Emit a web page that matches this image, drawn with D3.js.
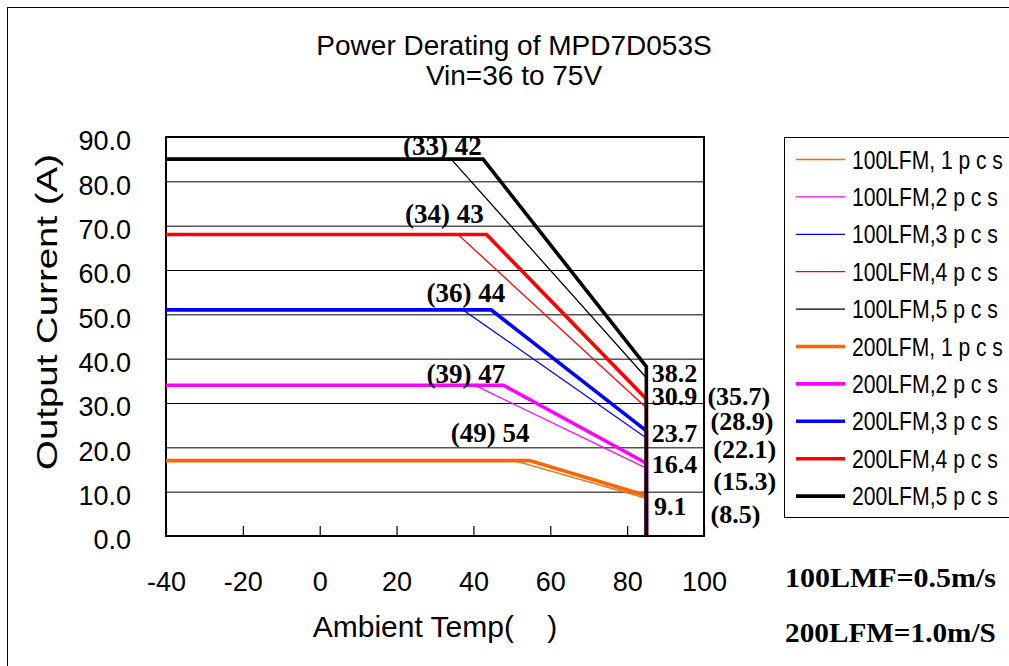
<!DOCTYPE html>
<html><head><meta charset="utf-8">
<script src="https://cdn.jsdelivr.net/npm/d3@7"></script>
<style>
body{margin:0;background:#fff;}
svg{display:block;}
text{font-family:"Liberation Sans",Arial,sans-serif;fill:#000;}
.lbl{font-family:"Liberation Serif","Times New Roman",serif;font-weight:bold;}
</style>
</head><body><svg id="c" width="1009" height="666"></svg>
<script>
// ---- data ----
const titleLines = ["Power Derating of MPD7D053S", "Vin=36 to 75V"];
const xTitle = "Ambient Temp(    )";
const yTitle = "Output Current (A)";
const tempTicks = [-40, -20, 0, 20, 40, 60, 80, 100];
const currentTicks = [0, 10, 20, 30, 40, 50, 60, 70, 80, 90];
const seriesNames = ["100LFM, 1 p c s", "100LFM,2 p c s", "100LFM,3 p c s", "100LFM,4 p c s", "100LFM,5 p c s",
                     "200LFM, 1 p c s", "200LFM,2 p c s", "200LFM,3 p c s", "200LFM,4 p c s", "200LFM,5 p c s"];
const startTemp = -40;
const cutoffTemp = 85;
const fullLoadCurrent = [17, 34, 51, 68, 85];
const knee100 = [50.6, 40.3, 37.3, 36.0, 34.2];
const knee200 = [54.6, 47.8, 44.6, 43.4, 42.5];
const end100 = [8.5, 15.3, 22.1, 28.9, 35.7];
const end200 = [9.1, 16.4, 23.7, 30.9, 38.2];
const kneeLabels = ["(49) 54", "(39) 47", "(36) 44", "(34) 43", "(33) 42"];
const kneeLabelTemp = [34.1, 27.8, 27.8, 22.2, 21.7];
const kneeLabelCurrent = [21.3, 34.4, 52.7, 70.5, 86.0];
const end200LabelTemp = [87.0, 86.4, 86.4, 86.4, 86.4];
const end200LabelCurrent = [4.7, 14.1, 21.3, 29.6, 34.8];
const end100LabelTemp = [101.7, 102.4, 102.4, 101.7, 100.9];
const end100LabelCurrent = [2.9, 10.4, 17.5, 23.9, 29.6];
const notes = ["100LMF=0.5m/s", "200LFM=1.0m/S"];

// ---- styles ----
const palette = ["#FF6600", "#FF00FF", "#0000FF", "#FF0000", "#000000"];
const thinW = 1.3, thickW = 3.6;

const svg = d3.select("#c");
const x = d3.scaleLinear().domain([-40, 100]).range([166, 704]);
const y = d3.scaleLinear().domain([0, 90]).range([536, 137]);
const pw = x.range()[1] - x.range()[0];

// helper: text scaled horizontally to a target width
function fitText(parent, tx, ty, rot, str, size, cls, target, anchor) {
  const g = parent.append("g");
  const t = g.append("text").attr("class", cls || null).style("font-size", size + "px")
    .attr("text-anchor", anchor || "start").text(str);
  const n = t.node().getComputedTextLength();
  const s = target / n;
  g.attr("transform", `translate(${tx},${ty}) rotate(${rot}) scale(${s},1)`);
  return t;
}

// outer chart border (right side runs off the picture)
svg.append("rect").attr("x", 7.5).attr("y", 7.5).attr("width", 1010).attr("height", 720)
  .attr("fill", "none").attr("stroke", "#000").attr("stroke-width", 1);

// title
svg.selectAll("text.title").data(titleLines).join("text").attr("class", "title")
  .attr("x", 514).attr("y", (d, i) => 55 + i * 30)
  .attr("text-anchor", "middle").style("font-size", "28px").text(d => d);

// gridlines
const grid = svg.append("g").attr("transform", `translate(${x.range()[0]},0)`)
  .call(d3.axisLeft(y).tickValues(currentTicks.slice(1, -1)).tickSize(-pw).tickFormat(""));
grid.select(".domain").remove();
grid.selectAll("line").attr("stroke", "#000").attr("stroke-width", 1);

// y tick labels
const ya = svg.append("g").attr("transform", `translate(${x.range()[0]},0)`)
  .call(d3.axisLeft(y).tickValues(currentTicks).tickSize(0).tickPadding(35).tickFormat(d3.format(".1f")));
ya.select(".domain").remove();
ya.selectAll("text").attr("dy", "0.47em").style("font-size", "27px")
  .style("font-family", "'Liberation Sans',Arial,sans-serif").attr("fill", "#000");

// x axis: inner ticks + labels
const xa = svg.append("g").attr("transform", `translate(0,${y(0)})`)
  .call(d3.axisBottom(x).tickValues(tempTicks).tickSizeInner(-10).tickSizeOuter(0).tickPadding(36)
    .tickFormat(d => String(d)));
xa.select(".domain").remove();
xa.selectAll("line").attr("stroke", "#000").attr("stroke-width", 1.2);
xa.selectAll("text").style("font-size", "27px")
  .style("font-family", "'Liberation Sans',Arial,sans-serif").attr("fill", "#000");

// plot frame
svg.append("rect").attr("x", x(-40)).attr("y", y(90)).attr("width", pw).attr("height", y(0) - y(90))
  .attr("fill", "none").attr("stroke", "#000").attr("stroke-width", 2);

// series
const line = d3.line().x(d => x(d[0])).y(d => y(d[1]));
const series = [];
[[knee100, end100, thinW], [knee200, end200, thickW]].forEach(([knee, end, w]) => {
  fullLoadCurrent.forEach((c, i) => {
    series.push({
      pts: [[startTemp, c], [knee[i], c], [cutoffTemp, end[i]], [cutoffTemp, 0]],
      color: palette[i], width: w
    });
  });
});
svg.append("g").selectAll("path").data(series).join("path")
  .attr("d", d => line(d.pts)).attr("fill", "none")
  .attr("stroke", d => d.color).attr("stroke-width", d => d.width)
  .attr("stroke-linejoin", "miter");

// knee labels
svg.append("g").selectAll("text").data(kneeLabels).join("text").attr("class", "lbl")
  .attr("x", (d, i) => x(kneeLabelTemp[i])).attr("y", (d, i) => y(kneeLabelCurrent[i]))
  .style("font-size", "27px").attr("xml:space", "preserve").style("white-space", "pre").text(d => d);

// end value labels
const f1 = d3.format(".1f");
svg.append("g").selectAll("text").data(end200).join("text").attr("class", "lbl")
  .attr("x", (d, i) => x(end200LabelTemp[i])).attr("y", (d, i) => y(end200LabelCurrent[i]))
  .style("font-size", "26px").text(d => f1(d));
svg.append("g").selectAll("text").data(end100).join("text").attr("class", "lbl")
  .attr("x", (d, i) => x(end100LabelTemp[i])).attr("y", (d, i) => y(end100LabelCurrent[i]))
  .style("font-size", "26px").text(d => "(" + f1(d) + ")");

// legend
const lg = svg.append("g");
lg.append("rect").attr("x", 784.5).attr("y", 137.5).attr("width", 260).attr("height", 380)
  .attr("fill", "#fff").attr("stroke", "#000").attr("stroke-width", 1);
series.forEach((d, i) => {
  const ry = 159.5 + i * 37.4;
  lg.append("line").attr("x1", 796).attr("x2", 845).attr("y1", ry).attr("y2", ry)
    .attr("stroke", d.color).attr("stroke-width", d.width);
  fitText(lg, 852, ry + 9, 0, seriesNames[i], 26, null, seriesNames[i].includes(" 1") ? 151 : 146, "start");
});

// axis titles
svg.append("text").attr("x", (x.range()[0] + x.range()[1]) / 2).attr("y", 637)
  .attr("text-anchor", "middle").style("font-size", "30px").style("white-space", "pre")
  .attr("xml:space", "preserve").text(xTitle);
fitText(svg, 57, 312, -90, yTitle, 30, null, 316, "middle");

// notes
notes.forEach((d, i) => fitText(svg, 785, 587 + i * 55, 0, d, 27, "lbl", 211, "start"));
</script>
</body></html>
